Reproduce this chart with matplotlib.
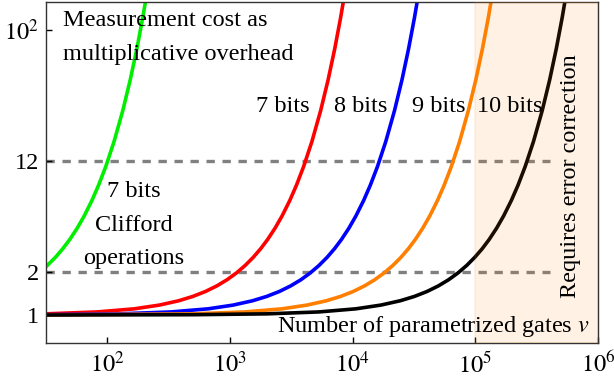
import matplotlib
matplotlib.use("Agg")
import matplotlib.pyplot as plt
from matplotlib.ticker import NullLocator, FixedLocator, FixedFormatter

plt.rcParams['font.family'] = ['Liberation Serif', 'DejaVu Serif']
plt.rcParams['mathtext.fontset'] = 'stix'

# overhead curves (v = number of parametrized gates)
v_cliff = [31.6, 37.7, 43.3, 49.4, 56.7, 64.8, 74.9, 85.0, 97.2, 113.4,
           133.6, 153.8, 174.1, 194.3, 214.6]
y_cliff = [2.18, 2.535, 2.915, 3.387, 4.055, 4.953, 6.360, 8.166, 11.02,
           16.44, 27.11, 44.70, 73.70, 121.5, 200.3]

v_7 = [31.6, 83, 166, 266, 382, 498, 631, 781, 947, 1130, 1329, 1545, 1777,
       2027, 2326, 2658, 3073, 3488, 3987, 4651, 5482, 6312, 7143, 7973, 8804]
y_7 = [1.019, 1.051, 1.105, 1.174, 1.259, 1.350, 1.462, 1.600, 1.768, 1.974,
       2.226, 2.535, 2.915, 3.387, 4.055, 4.953, 6.360, 8.166, 11.02, 16.44,
       27.11, 44.70, 73.70, 121.5, 200.3]

v_8 = [31.6, 126, 332, 664, 1063, 1528, 1993, 2525, 3123, 3787, 4518, 5316,
       6179, 7110, 8106, 9302, 10631, 12292, 13953, 15947, 18605, 21927,
       25249, 28571, 31894, 35216]
y_8 = [1.005, 1.019, 1.051, 1.105, 1.174, 1.259, 1.350, 1.462, 1.600, 1.768,
       1.974, 2.226, 2.535, 2.915, 3.387, 4.055, 4.953, 6.360, 8.166, 11.02,
       16.44, 27.11, 44.70, 73.70, 121.5, 200.3]

v_9 = [31.6, 506, 1329, 2658, 4253, 6113, 7973, 10100, 12492, 15150, 18073,
       21263, 24718, 28439, 32426, 37209, 42525, 49169, 55814, 63787, 74419,
       87708, 100997, 114286, 127575, 140864]
y_9 = [1.0012, 1.019, 1.051, 1.105, 1.174, 1.259, 1.350, 1.462, 1.600, 1.768,
       1.974, 2.226, 2.535, 2.915, 3.387, 4.055, 4.953, 6.360, 8.166, 11.02,
       16.44, 27.11, 44.70, 73.70, 121.5, 200.3]

v_10 = [31.6, 500, 2020, 5316, 10631, 17010, 24452, 31894, 40399, 49967,
        60598, 72292, 85050, 98870, 113754, 129701, 148837, 170100, 196678,
        223256, 255150, 297674, 350831, 403987, 457143, 510299, 563455]
y_10 = [1.0003, 1.0047, 1.019, 1.051, 1.105, 1.174, 1.259, 1.350, 1.462,
        1.600, 1.768, 1.974, 2.226, 2.535, 2.915, 3.387, 4.055, 4.953, 6.360,
        8.166, 11.02, 16.44, 27.11, 44.70, 73.70, 121.5, 200.3]

ref_levels = [2, 12]
ref_end = 4.1e5
ec_start, ec_end = 1e5, 1e6

y_ticks = [1, 2, 12, 100]
y_tick_labels = ['1', '2', '12', r'$10^2$']
x_ticks = [1e2, 1e3, 1e4, 1e5, 1e6]
x_tick_labels = [r'$10^2$', r'$10^3$', r'$10^4$', r'$10^5$', r'$10^6$']

fig = plt.figure(figsize=(6.14, 3.83), dpi=100)
ax = fig.add_axes([0.0749, 0.1044, 0.8990, 0.8904])
ax.set_xscale('log')
ax.set_yscale('log')
ax.set_xlim(10**1.5, 1e6)
ax.set_ylim(0.636, 157)

for y in ref_levels:
    ax.plot([10**1.5, ref_end], [y, y], color='#808080', lw=2.4,
            dashes=(2.5, 2.3), zorder=1)

lw = 2.6
ax.plot(v_cliff, y_cliff, color='#00ee00', lw=lw, zorder=2)
ax.plot(v_7, y_7, color='#ff0000', lw=lw, zorder=2)
ax.plot(v_8, y_8, color='#0000ff', lw=lw, zorder=2)
ax.plot(v_9, y_9, color='#ff7f00', lw=lw, zorder=2)
ax.plot(v_10, y_10, color='black', lw=lw, zorder=2)

ax.axvspan(ec_start, ec_end, facecolor='#ff8000', edgecolor='#ff8000',
           alpha=0.11, lw=1.2, zorder=3)

ax.xaxis.set_major_locator(FixedLocator(x_ticks))
ax.xaxis.set_major_formatter(FixedFormatter(x_tick_labels))
ax.yaxis.set_major_locator(FixedLocator(y_ticks))
ax.yaxis.set_major_formatter(FixedFormatter(y_tick_labels))
ax.xaxis.set_minor_locator(NullLocator())
ax.yaxis.set_minor_locator(NullLocator())
ax.tick_params(direction='in', length=4, width=1, labelsize=17.5)
ax.tick_params(axis='x', pad=6)
ax.tick_params(axis='y', pad=5)
for s in ax.spines.values():
    s.set_color('#333333')
    s.set_linewidth(1)

fs = 17.5
T = ax.transAxes
ax.text(0.031, 0.9296, 'Measurement cost as', transform=T, fontsize=fs,
        va='baseline', ha='left')
ax.text(0.031, 0.830, 'multiplicative overhead', transform=T, fontsize=fs,
        va='baseline', ha='left')
for txt, yy in [('7 bits', 0.428), ('Clifford', 0.328), ('operations', 0.232)]:
    ax.text(0.159, yy, txt, transform=T, fontsize=fs, va='baseline',
            ha='center')
for txt, xx in [('7 bits', 0.429), ('8 bits', 0.571), ('9 bits', 0.711),
                ('10 bits', 0.841)]:
    ax.text(xx, 0.677, txt, transform=T, fontsize=fs, va='baseline',
            ha='center')
ax.text(0.9855, 0.032, r'Number of parametrized gates $v$', transform=T,
        fontsize=fs, va='baseline', ha='right')
ax.text(0.951, 0.49, 'Requires error correction', transform=T, fontsize=fs,
        rotation=90, va='center', ha='center')

fig.savefig('out.png', dpi=100)
